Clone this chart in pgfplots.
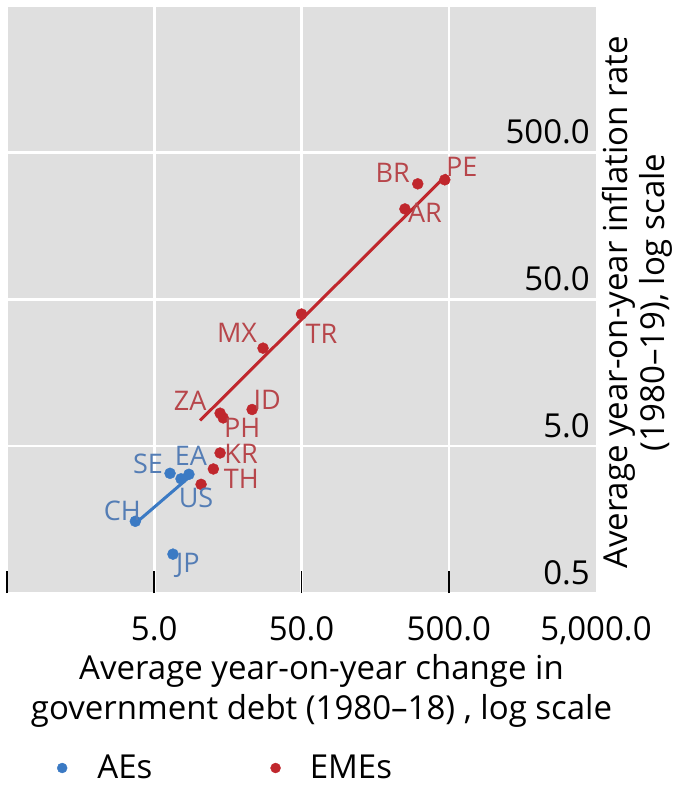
\documentclass[border=0pt]{standalone}
\usepackage{fontspec}
\setmainfont{Open Sans}
\usepackage{pgfplots}
\pgfplotsset{compat=1.18}
\usepackage{pgfplotstable}
\definecolor{aeblue}{RGB}{59,122,196}
\definecolor{emered}{RGB}{192,39,45}
\definecolor{aelab}{RGB}{84,125,181}
\definecolor{emelab}{RGB}{183,70,75}
\definecolor{bg}{RGB}{223,223,223}

\pgfplotstableread{
lab x y dx dy
PE 470 327 17 13
BR 308 307 -25 11
AR 252 207 20 -4
TR 50 39.8 20 -20
MX 27.4 23.3 -26 15
ZA 14.0 8.4 -30 12
ID 23.1 8.9 15 10
PH 14.7 7.8 19 -10
KR 14.0 4.5 21 -1
TH 12.6 3.5 28 -10
}\emes

\pgfplotstableread{
lab x y dx dy
SE 6.4 3.27 -22 9
EA 8.6 3.22 2 18
US 7.6 3.0 15 -19
CH 3.72 1.54 -13 10
JP 6.7 0.92 15 -11
}\aes

\begin{document}
\begin{tikzpicture}
\begin{axis}[
  at={(0,0)}, anchor=south west,
  scale only axis, width=589pt, height=587pt,
  xmode=log, ymode=log,
  xmin=0.5, xmax=5000, ymin=0.5, ymax=5000,
  xminorticks=false, yminorticks=false,
  axis background/.style={fill=bg},
  axis line style={draw=none},
  grid=major, major grid style={white, line width=2.5pt},
  xtick={0.5,5,50,500}, xticklabels={,5.0,50.0,500.0},
  extra x ticks={5000}, extra x tick labels={5{,}000.0},
  extra x tick style={grid=none, tick style={draw=none}},
  ytick={0.5,5,50,500,5000}, yticklabels={0.5,5.0,50.0,500.0,{}},
  xtick pos=bottom, ytick pos=right, yticklabel pos=right,
  major tick length=22pt, tick align=inside,
  xtick style={black, line width=1.8pt},
  ytick style={draw=none},
  xticklabel style={anchor=base, yshift=-47pt, inner sep=0pt, font=\fontsize{33}{38}\selectfont},
  yticklabel style={anchor=base east, xshift=-6pt, yshift=9pt, inner sep=0pt, font=\fontsize{33}{38}\selectfont},
  xlabel={Average year-on-year change in\\government debt (1980–18) , log scale},
  ylabel={Average year-on-year inflation rate\\(1980–19), log scale},
  every axis x label/.style={at={([xshift=20pt,yshift=-98pt]axis description cs:0.5,0)}, anchor=center, align=center, font=\fontsize{33}{40}\selectfont},
  every axis y label/.style={at={([xshift=41pt,yshift=-3pt]axis description cs:1,0.5)}, rotate=90, anchor=center, align=center, font=\fontsize{33}{37}\selectfont},
  clip=false,
  legend image code/.code={\fill[#1] (0pt,-2pt) circle (5pt);},
  legend style={at={(0,0)}, anchor=south west, xshift=50pt, yshift=-185pt,
    draw=none, fill=none, inner sep=0pt, outer sep=0pt, legend columns=2,
    font=\fontsize{33}{38}\selectfont,
    nodes={inner sep=0pt, text height=24pt, text depth=0pt},
    column sep=0pt, row sep=0pt},
  legend cell align=left,
]
% fit lines
\addplot[forget plot, emered, line width=3pt, no marks] coordinates {(10.25,7.5) (485,354)};
\addplot[forget plot, aeblue, line width=3pt, no marks] coordinates {(3.72,1.49) (8.77,3.12)};
% EME points
\addplot[forget plot, only marks, mark=*, mark size=5.5pt, color=emered,
  nodes near coords, point meta=explicit symbolic,
  visualization depends on={\thisrow{dx}\as\dx},
  visualization depends on={\thisrow{dy}\as\dy},
  every node near coord/.style={anchor=center, xshift=\dx pt, yshift=\dy pt, text=emelab, font=\fontsize{27}{27}\selectfont, inner sep=0pt}]
  table[x=x, y=y, meta=lab]{\emes};
\addplot[forget plot, only marks, mark=*, mark size=5.5pt, color=emered] coordinates {(10.4,2.75)};
% AE points
\addplot[forget plot, only marks, mark=*, mark size=5.5pt, color=aeblue,
  nodes near coords, point meta=explicit symbolic,
  visualization depends on={\thisrow{dx}\as\dx},
  visualization depends on={\thisrow{dy}\as\dy},
  every node near coord/.style={anchor=center, xshift=\dx pt, yshift=\dy pt, text=aelab, font=\fontsize{27}{27}\selectfont, inner sep=0pt}]
  table[x=x, y=y, meta=lab]{\aes};
\addlegendimage{aeblue}
\addlegendentry{\hspace*{30pt}AEs\hspace*{118pt}\null}
\addlegendimage{emered}
\addlegendentry{\hspace*{29pt}EMEs}
\end{axis}
\pgfresetboundingbox
\path[use as bounding box] (-7pt,-193pt) rectangle (667pt,593pt);
\end{tikzpicture}
\end{document}
